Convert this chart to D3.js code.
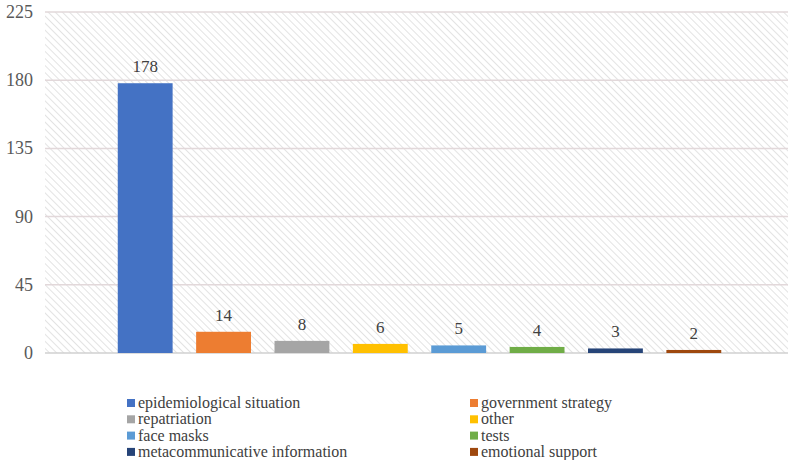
<!DOCTYPE html>
<html>
<head>
<meta charset="utf-8">
<script src="https://cdn.jsdelivr.net/npm/d3@7"></script>
</head>
<body style="margin:0; background:#fff">
<svg width="788" height="460"></svg>
<script>
// chart data
var categories = ["epidemiological situation", "government strategy", "repatriation", "other",
                  "face masks", "tests", "metacommunicative information", "emotional support"];
var counts = [178, 14, 8, 6, 5, 4, 3, 2];
var colors = ["#4472c4", "#ed7d31", "#a5a5a5", "#ffc000", "#5b9bd5", "#70ad47", "#264478", "#9e480e"];
var yTicks = [0, 45, 90, 135, 180, 225];

var svg = d3.select("svg");
var plot = { left: 45, right: 788, top: 12, bottom: 353 };
var serif = "'Liberation Serif'";

// hatch pattern for the plot background
var defs = svg.append("defs");
var pat = defs.append("pattern")
  .attr("id", "hatch")
  .attr("patternUnits", "userSpaceOnUse")
  .attr("width", 5).attr("height", 5)
  .attr("patternTransform", "rotate(-45)");
pat.append("rect").attr("width", 5).attr("height", 5).attr("fill", "#ffffff");
pat.append("line")
  .attr("x1", 0).attr("y1", 0).attr("x2", 0).attr("y2", 5)
  .attr("stroke", "#dadada").attr("stroke-width", 1.5);

svg.append("rect")
  .attr("x", plot.left).attr("y", plot.top)
  .attr("width", plot.right - plot.left).attr("height", plot.bottom - plot.top)
  .attr("fill", "url(#hatch)");

var y = d3.scaleLinear().domain([0, 225]).range([plot.bottom, plot.top]);
var x = d3.scaleBand().domain(categories).range([106, 733]).paddingInner(0.3).paddingOuter(0.15);

// grid lines
svg.append("g").selectAll("line")
  .data(yTicks)
  .enter().append("line")
  .attr("x1", plot.left).attr("x2", plot.right)
  .attr("y1", function(d) { return y(d); })
  .attr("y2", function(d) { return y(d); })
  .attr("stroke", function(d) { return d == 0 ? "#d0d0d0" : "#e2d8da"; })
  .attr("stroke-width", 1.5);

// y tick labels
svg.append("g").selectAll("text")
  .data(yTicks)
  .enter().append("text")
  .attr("x", 33)
  .attr("y", function(d) { return y(d) + 6; })
  .attr("text-anchor", "end")
  .attr("fill", "#595959")
  .style("font-family", serif)
  .style("font-size", "18px")
  .text(function(d) { return d; });

// bars
svg.append("g").selectAll("rect")
  .data(counts)
  .enter().append("rect")
  .attr("x", function(d, i) { return x(categories[i]); })
  .attr("width", x.bandwidth())
  .attr("y", function(d) { return y(d); })
  .attr("height", function(d) { return y(0) - y(d); })
  .attr("fill", function(d, i) { return colors[i]; });

// value labels
svg.append("g").selectAll("text")
  .data(counts)
  .enter().append("text")
  .attr("x", function(d, i) { return x(categories[i]) + x.bandwidth() / 2; })
  .attr("y", function(d) { return y(d) - 11; })
  .attr("text-anchor", "middle")
  .attr("fill", "#404040")
  .style("font-family", serif)
  .style("font-size", "17px")
  .text(function(d) { return d; });

// legend, two columns
var legendG = svg.selectAll(".legend")
  .data(categories)
  .enter().append("g")
  .attr("class", "legend")
  .attr("transform", function(d, i) {
    var col = i % 2, row = Math.floor(i / 2);
    return "translate(" + (col == 0 ? 127 : 470) + "," + (403 + row * 16.3) + ")";
  });

legendG.append("rect")
  .attr("x", 0).attr("y", -4)
  .attr("width", 8).attr("height", 8)
  .attr("fill", function(d, i) { return colors[i]; });

legendG.append("text")
  .attr("x", 11).attr("y", 5)
  .attr("fill", "#404040")
  .style("font-family", serif)
  .style("font-size", "16px")
  .text(function(d) { return d; });
</script>
</body>
</html>
